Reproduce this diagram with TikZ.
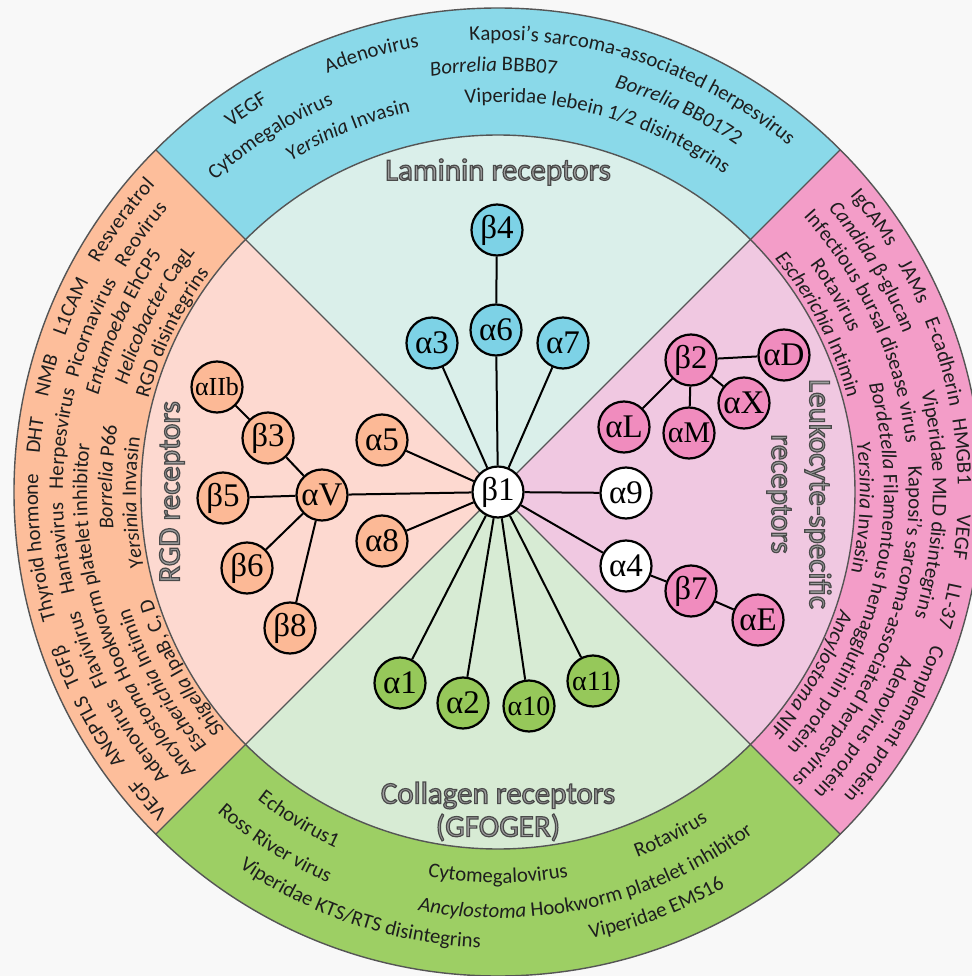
\documentclass[tikz,border=0pt]{standalone}
\usepackage{fontspec}
\setmainfont{Carlito}
\newfontfamily\serf{Liberation Serif}
\usetikzlibrary{decorations.text}

\definecolor{bg}{RGB}{248,248,248}
\definecolor{ringblue}{RGB}{138,217,233}
\definecolor{inblue}{RGB}{218,239,234}
\definecolor{ringor}{RGB}{253,190,155}
\definecolor{inor}{RGB}{253,217,208}
\definecolor{ringpk}{RGB}{243,157,200}
\definecolor{inpk}{RGB}{240,200,225}
\definecolor{ringgr}{RGB}{157,207,100}
\definecolor{ingr}{RGB}{215,235,212}
\definecolor{ndblue}{RGB}{125,210,230}
\definecolor{ndor}{RGB}{252,185,150}
\definecolor{ndpk}{RGB}{240,140,190}
\definecolor{ndgr}{RGB}{150,200,90}
\definecolor{edgegrey}{RGB}{85,85,85}
\definecolor{lblgrey}{RGB}{158,158,158}
\definecolor{txt}{RGB}{30,30,30}

\newcommand\rf{\fontsize{10.4pt}{12pt}\selectfont\upshape\color{txt}}
\newcommand\itf{\fontsize{10.4pt}{12pt}\selectfont\itshape\color{txt}}
\newcommand\cwtext[3]{\path[decorate,decoration={text along path,text align=center,text={#3}}] (#1+50:#2) arc[start angle=#1+50,end angle=#1-50,radius=#2];}
\newcommand\ccwtext[3]{\path[decorate,decoration={text along path,text align=center,text={#3}}] (#1-50:#2) arc[start angle=#1-50,end angle=#1+50,radius=#2];}
\newcommand\outl[1]{\special{pdf:literal direct 2 Tr 0.6 w 0.29 0.29 0.29 RG}#1\special{pdf:literal direct 0 Tr}}

\tikzset{
  nd/.style={circle,draw=black,line width=1.1pt,minimum size=25.5pt,inner sep=0pt,
    font=\serf\fontsize{16.5pt}{18pt}\selectfont},
  ndW/.style={nd,fill=white},
  ndB/.style={nd,fill=ndblue},
  ndO/.style={nd,fill=ndor},
  ndP/.style={nd,fill=ndpk},
  ndG/.style={nd,fill=ndgr},
  smallnd/.style={font=\serf\fontsize{14pt}{16pt}\selectfont},
  link/.style={line width=1pt,draw=black},
  boundary/.style={draw=edgegrey,line width=0.7pt},
  lab/.style={font=\fontsize{15.5pt}{19pt}\selectfont,text=lblgrey,inner sep=0pt}
}

\begin{document}
\begin{tikzpicture}[x=1pt,y=1pt]
\fill[bg] (-249,-242) rectangle (237,246);
\useasboundingbox (-249,-242) rectangle (237,246);
\clip (-249,-242) rectangle (237,246);

% sectors
\fill[ringblue] (0,0) -- (45:242) arc[start angle=45,end angle=135,radius=242pt] -- cycle;
\fill[ringor] (0,0) -- (135:242) arc[start angle=135,end angle=225,radius=242pt] -- cycle;
\fill[ringgr] (0,0) -- (225:242) arc[start angle=225,end angle=315,radius=242pt] -- cycle;
\fill[ringpk] (0,0) -- (-45:242) arc[start angle=-45,end angle=45,radius=242pt] -- cycle;
\fill[inblue] (0,0) -- (45:178.5) arc[start angle=45,end angle=135,radius=178.5pt] -- cycle;
\fill[inor] (0,0) -- (135:178.5) arc[start angle=135,end angle=225,radius=178.5pt] -- cycle;
\fill[ingr] (0,0) -- (225:178.5) arc[start angle=225,end angle=315,radius=178.5pt] -- cycle;
\fill[inpk] (0,0) -- (-45:178.5) arc[start angle=-45,end angle=45,radius=178.5pt] -- cycle;
\draw[boundary] (0,0) circle[radius=242pt];
\draw[boundary] (0,0) circle[radius=178.5pt];
\draw[boundary] (45:242) -- (225:242);
\draw[boundary] (135:242) -- (-45:242);

% top sector texts
\cwtext{123.4}{226pt}{|\rf|VEGF}
\cwtext{106.1}{226pt}{|\rf|Adenovirus}
\cwtext{71.8}{226pt}{|\rf|Kaposi’s sarcoma-associated herpesvirus}
\cwtext{122.6}{210.5pt}{|\rf|Cytomegalovirus}
\cwtext{90.6}{210.5pt}{|\itf|Borrelia |\rf|BBB07}
\cwtext{64.7}{210.5pt}{|\itf|Borrelia |\rf|BB0172}
\cwtext{112.5}{195pt}{|\itf|Yersinia |\rf|Invasin}
\cwtext{74.7}{195pt}{|\rf|Viperidae lebein 1/2 disintegrins}

% left sector texts
\cwtext{221.3}{230pt}{|\rf|VEGF}
\cwtext{211}{230pt}{|\rf|ANGPTLS}
\cwtext{202}{230pt}{|\rf|TGFβ}
\cwtext{186.9}{230pt}{|\rf|Thyroid hormone}
\cwtext{173}{230pt}{|\rf|DHT}
\cwtext{165.5}{230pt}{|\rf|NMB}
\cwtext{156.5}{230pt}{|\rf|L1CAM}
\cwtext{144.2}{230pt}{|\rf|Resveratrol}
\cwtext{214.6}{217.5pt}{|\rf|Adenovirus}
\cwtext{201}{217.5pt}{|\rf|Flavivirus}
\cwtext{187.4}{217.5pt}{|\rf|Hantavirus}
\cwtext{173}{217.5pt}{|\rf|Herpesvirus}
\cwtext{158}{217.5pt}{|\rf|Picornavirus}
\cwtext{144.2}{217.5pt}{|\rf|Reovirus}
\cwtext{198}{205.5pt}{|\itf|Ancylostoma |\rf|Hookworm platelet inhibitor}
\cwtext{155.6}{205.5pt}{|\itf|Entamoeba |\rf|EhCP5}
\cwtext{209.3}{193pt}{|\itf|Escherichia |\rf|Intimin}
\cwtext{177.8}{193pt}{|\itf|Borrelia |\rf|P66}
\cwtext{152.8}{193pt}{|\itf|Helicobacter |\rf|CagL}
\cwtext{209}{181pt}{|\itf|Shigella |\rf|IpaB, C, D}
\cwtext{181.7}{181pt}{|\itf|Yersinia |\rf|Invasin}
\cwtext{153.9}{181pt}{|\rf|RGD disintegrins}

% right sector texts
\cwtext{36.1}{230pt}{|\rf|IgCAMs}
\cwtext{26.8}{230pt}{|\rf|JAMs}
\cwtext{16.3}{230pt}{|\rf|E-cadherin}
\cwtext{5}{230pt}{|\rf|HMGB1}
\cwtext{-5.6}{230pt}{|\rf|VEGF}
\cwtext{-14.2}{230pt}{|\rf|LL-37}
\cwtext{-30.3}{230pt}{|\rf|Complement protein}
\cwtext{31}{217.5pt}{|\itf|Candida |\rf|β-glucan}
\cwtext{-1.7}{217.5pt}{|\rf|Viperidae MLD disintegrins}
\cwtext{-32.8}{217.5pt}{|\rf|Adenovirus protein}
\cwtext{24.4}{205.5pt}{|\rf|Infectious bursal disease virus}
\cwtext{-20.4}{205.5pt}{|\rf|Kaposi’s sarcoma-associated herpesvirus}
\cwtext{30.2}{193pt}{|\rf|Rotavirus}
\cwtext{-12.7}{193pt}{|\itf|Bordetella |\rf|Filamentous hemagglutinin protein}
\cwtext{27.6}{181pt}{|\itf|Escherichia |\rf|Intimin}
\cwtext{-2.5}{181pt}{|\itf|Yersinia |\rf|Invasin}
\cwtext{-30.2}{181pt}{|\itf|Ancylostoma |\rf|NIF}

% bottom sector texts
\ccwtext{238.7}{195.5pt}{|\rf|Echovirus1}
\ccwtext{270}{195.5pt}{|\rf|Cytomegalovirus}
\ccwtext{296.7}{195.5pt}{|\rf|Rotavirus}
\ccwtext{237.6}{213pt}{|\rf|Ross River virus}
\ccwtext{283}{213pt}{|\itf|Ancylostoma |\rf|Hookworm platelet inhibitor}
\ccwtext{251.6}{228pt}{|\rf|Viperidae KTS/RTS disintegrins}
\ccwtext{290.8}{228pt}{|\rf|Viperidae EMS16}

% inner labels
\node[lab] (lam) at (0,160) {\outl{Laminin receptors}};
\node[lab,rotate=90] (rgd) at (-163,0) {\outl{RGD receptors}};
\node[lab,rotate=-90,align=center] (leu) at (150.5,-1) {\outl{Leukocyte-specific}\\\outl{receptors}};
\node[lab,align=center] (col) at (0,-159.75) {\outl{Collagen receptors}\\[-2.5pt]\outl{(GFOGER)}};

% nodes
\node[ndW] (b1) at (0,0) {β1};
\node[ndB] (a3) at (-33,74.5) {α3};
\node[ndB] (a6) at (-1,81) {α6};
\node[ndB] (b4) at (-0.5,131) {β4};
\node[ndB] (a7) at (32.5,74.5) {α7};
\node[ndO] (a5) at (-58,26) {α5};
\node[ndO] (aV) at (-88,-1.5) {αV};
\node[ndO] (a8) at (-58,-24.5) {α8};
\node[ndO] (b3) at (-115,27) {β3};
\node[ndO,font=\serf\fontsize{13pt}{15pt}\selectfont] (aIIb) at (-140.5,52.5) {αIIb};
\node[ndO] (b5) at (-137.5,-3) {β5};
\node[ndO] (b6) at (-125.5,-38) {β6};
\node[ndO] (b8) at (-104,-68) {β8};
\node[ndG] (a1) at (-49,-95.5) {α1};
\node[ndG] (a2) at (-17.5,-105.5) {α2};
\node[ndG,smallnd] (a10) at (15.5,-107) {α10};
\node[ndG,smallnd] (a11) at (47.5,-94.5) {α11};
\node[ndW] (a9) at (64,-0.5) {α9};
\node[ndW] (a4) at (64,-37) {α4};
\node[ndP] (b7) at (96.5,-49.5) {β7};
\node[ndP] (aE) at (130,-64) {αE};
\node[ndP] (b2) at (96.5,66) {β2};
\node[ndP] (aD) at (143,68.5) {αD};
\node[ndP] (aX) at (123,44.5) {αX};
\node[ndP,font=\serf\fontsize{15pt}{17pt}\selectfont] (aM) at (95.5,29.5) {αM};
\node[ndP] (aL) at (63,32.5) {αL};

% connectors
\foreach \n in {a3,a6,a7,a5,aV,a8,a9,a4,a1,a2,a10,a11}
  \draw[link] (b1) -- (\n);
\draw[link] (a6) -- (b4);
\draw[link] (aV) -- (b3);
\draw[link] (b3) -- (aIIb);
\draw[link] (aV) -- (b5);
\draw[link] (aV) -- (b6);
\draw[link] (aV) -- (b8);
\draw[link] (b2) -- (aD);
\draw[link] (b2) -- (aX);
\draw[link] (b2) -- (aM);
\draw[link] (b2) -- (aL);
\draw[link] (a4) -- (b7);
\draw[link] (b7) -- (aE);
\end{tikzpicture}
\end{document}
